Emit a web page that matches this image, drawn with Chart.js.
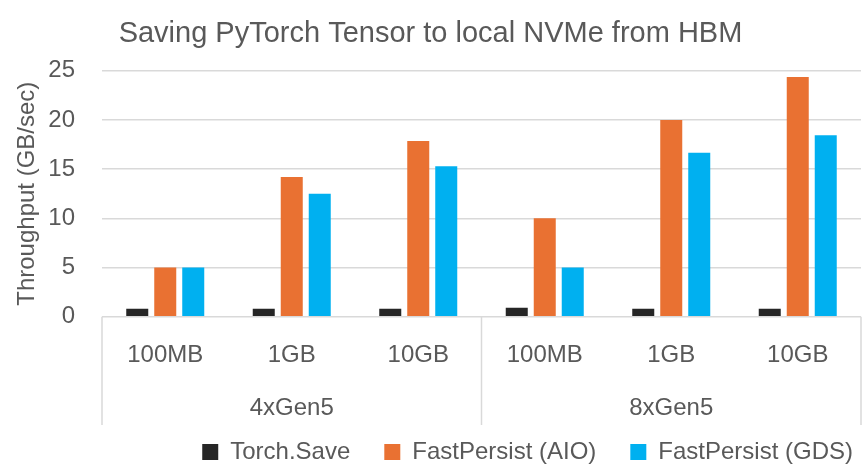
<!DOCTYPE html>
<html><head><meta charset="utf-8">
<script src="https://cdn.jsdelivr.net/npm/chart.js@4"></script>
<style>html,body{margin:0;padding:0;background:#fff;} canvas{display:block;}</style>
</head><body>
<canvas id="c" width="867" height="472"></canvas>
<script>
const sizes = ['100MB', '1GB', '10GB', '100MB', '1GB', '10GB'];
const groups = ['4xGen5', '8xGen5'];
const torchSave = [0.8, 0.8, 0.8, 0.9, 0.8, 0.8];
const fastPersistAIO = [5.0, 14.2, 17.85, 10.0, 20.0, 24.35];
const fastPersistGDS = [5.0, 12.5, 15.3, 5.0, 16.65, 18.45];
const yMin = 0, yMax = 25, yStep = 5;

const FONT = 'Liberation Sans';
const TXT = '#595959';
const GRID = '#d9d9d9';

const separators = {
  id: 'separators',
  afterDraw(chart, args, opts) {
    const xs = chart.scales.x;
    const x2 = chart.scales.x2;
    const ctx = chart.ctx;
    const n = sizes.length, per = n / groups.length;
    ctx.save();
    ctx.strokeStyle = GRID;
    ctx.lineWidth = 1.5;
    ctx.beginPath();
    for (let g = 0; g <= groups.length; g++) {
      const i = g * per;
      let px;
      if (i === 0) px = xs.left;
      else if (i === n) px = xs.right;
      else px = (xs.getPixelForValue(i - 1) + xs.getPixelForValue(i)) / 2;
      ctx.moveTo(px, xs.top);
      ctx.lineTo(px, x2.bottom);
    }
    ctx.stroke();
    ctx.restore();
  }
};

const legendShift = {
  id: 'legendShift',
  afterLayout(chart, args, opts) {
    const lg = chart.legend;
    lg.left += opts.dx; lg.right += opts.dx;
    lg.top += opts.dy;
  }
};

new Chart(document.getElementById('c'), {
  type: 'bar',
  data: {
    labels: sizes,
    datasets: [
      { label: 'Torch.Save', data: torchSave, backgroundColor: '#262626' },
      { label: 'FastPersist (AIO)', data: fastPersistAIO, backgroundColor: '#E97132' },
      { label: 'FastPersist (GDS)', data: fastPersistGDS, backgroundColor: '#00B0F0' }
    ]
  },
  plugins: [separators, legendShift],
  options: {
    responsive: false,
    animation: false,
    events: [],
    categoryPercentage: 0.664,
    barPercentage: 0.786,
    layout: { padding: { left: 0, right: 6, top: 0, bottom: 0 } },
    plugins: {
      legendShift: { dx: 26, dy: -19 },
      title: {
        display: true,
        text: 'Saving PyTorch Tensor to local NVMe from HBM',
        color: TXT,
        font: { family: FONT, size: 29, weight: 'normal' },
        padding: { top: 17, bottom: 18.9 }
      },
      legend: {
        position: 'bottom',
        align: 'end',
        maxHeight: 47,
        labels: {
          color: TXT,
          font: { family: FONT, size: 24 },
          boxWidth: 16,
          boxHeight: 16,
          padding: 34
        }
      },
      tooltip: { enabled: false }
    },
    scales: {
      y: {
        min: yMin, max: yMax,
        ticks: { stepSize: yStep, color: TXT, font: { family: FONT, size: 24 }, padding: 27 },
        grid: { color: GRID, lineWidth: 1.5, drawTicks: false },
        border: { display: false },
        title: {
          display: true,
          text: 'Throughput (GB/sec)',
          color: TXT,
          font: { family: FONT, size: 24 },
          padding: { top: 13, bottom: 0 }
        },
        afterFit(s) { s.width = 102; }
      },
      x: {
        weight: 0,
        ticks: { color: TXT, font: { family: FONT, size: 24 }, padding: 16.7, autoSkip: false, maxRotation: 0 },
        grid: { display: false },
        border: { display: false },
        afterFit(s) { s.height = 60; }
      },
      x2: {
        type: 'category',
        position: 'bottom',
        weight: 1,
        labels: groups,
        offset: true,
        ticks: { color: TXT, font: { family: FONT, size: 24 }, padding: 9, autoSkip: false, maxRotation: 0 },
        grid: { display: false },
        border: { display: false },
        afterFit(s) { s.height = 48.3; }
      }
    }
  }
});
</script>
</body></html>
